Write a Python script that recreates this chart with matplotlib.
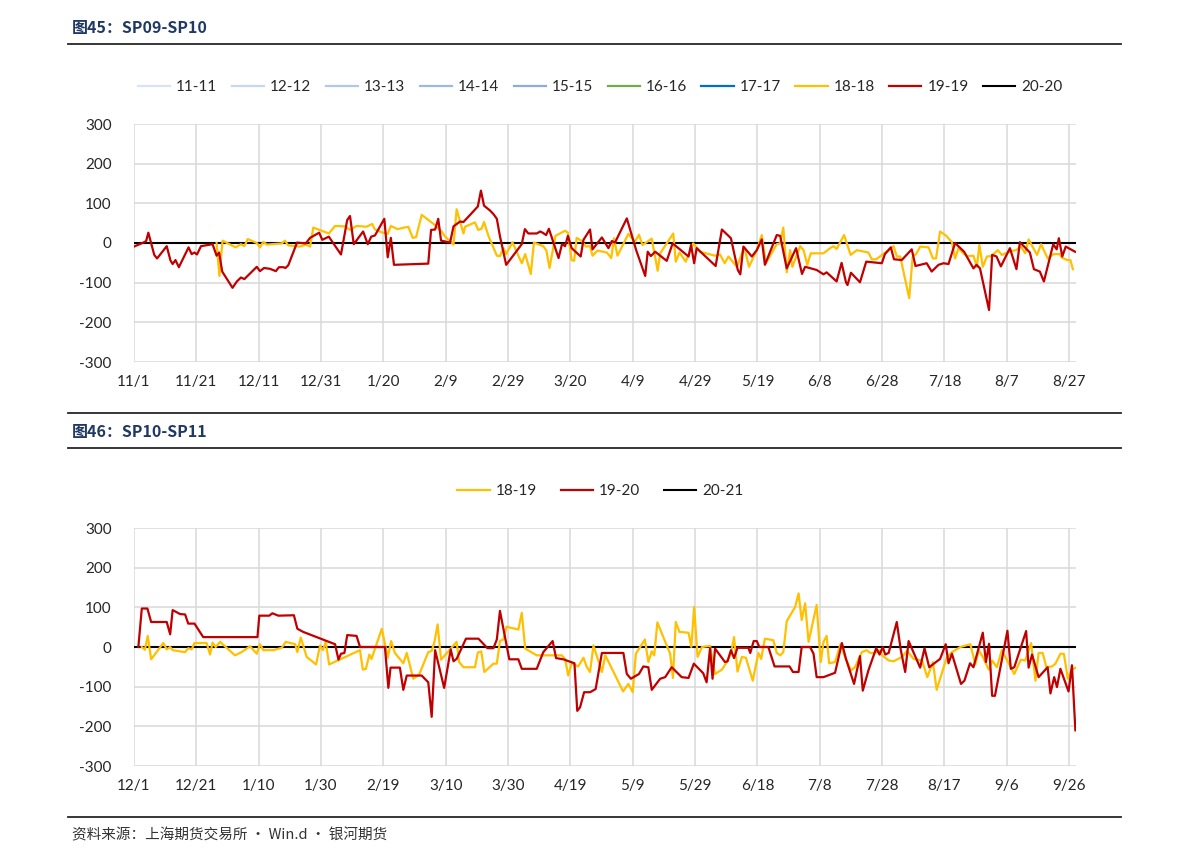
import numpy as np
import matplotlib
matplotlib.use("Agg")
import matplotlib.pyplot as plt
import matplotlib.dates as mdates
from matplotlib.lines import Line2D
from matplotlib.ticker import FixedLocator, FuncFormatter

# ---- 图45 SP09-SP10 (days counted from 2019-11-01) ----
top_start = "2019-11-01"
top_labels = ["11-11", "12-12", "13-13", "14-14", "15-15", "16-16", "17-17", "18-18", "19-19", "20-20"]
top_colors = ["#DAE3F3", "#C9D7EE", "#B4C7E7", "#9DB8E2", "#8FAADC", "#70AD47", "#0070C0", "#FFC000", "#C00000", "#000000"]

top_red_days = [0, 3, 3.9, 4.6, 6.5, 7.4, 10.5, 11.7, 12.4, 13.3,
                14.4, 17.5, 18.5, 19.4, 20.2, 21.5, 25.2, 26.5, 27.3, 28.3,
                31.6, 33, 34.3, 35.4, 39.4, 40.4, 41.7, 43.6, 45.5, 46.5,
                47.9, 48.6, 49.5, 52.3, 55.1, 56.5, 59.4, 60.4, 62.5, 66.4,
                68.4, 69.3, 70.5, 73.5, 75, 76.1, 77.3, 80.3, 81.4, 82.4,
                83.4, 94.4, 95.3, 96.6, 97.6, 98.5, 101.4, 102.5, 104.6, 105.7,
                110.3, 111.3, 112.3, 114.2, 115.3, 116.4, 117.4, 119.4, 124.4, 125.4,
                126.5, 129.2, 130.3, 131.1, 132.2, 133.1, 136.2, 137.3, 138.3, 139.2,
                140.4, 143.3, 144.2, 146.3, 147.1, 150.1, 152.2, 153.3, 154.3, 158.1,
                161.1, 164, 164.8, 165.8, 167.2, 170.9, 172.8, 177.9, 178.7, 179.7,
                180.5, 186.6, 188.6, 191.5, 193.7, 194.5, 195.5, 198.2, 199.8, 201.4,
                202.4, 206.2, 207.3, 209.4, 212.4, 214.3, 215.3, 219, 221.2, 222.2,
                225.4, 227, 228.4, 228.9, 230, 232.9, 234.9, 239.9, 240.9, 242.8,
                243.8, 246.3, 249.5, 250.7, 254.3, 255.9, 258.1, 259.7, 261.3, 263.4,
                266.3, 269.3, 270.3, 271.4, 274.3, 275.3, 276.7, 278.1, 281, 283.1,
                284.2, 287.4, 288.7, 290.6, 291.9, 294.9, 296, 296.7, 297.8, 298.9,
                301.9]
top_red_vals = [-9, 1, 5, 26, -30, -39, -8, -44, -53, -43,
                -61, -11, -28, -24, -29, -8, -3, -32, -24, -72,
                -113, -97, -87, -91, -60, -71, -63, -65, -71, -61,
                -61, -63, -56, 1, -1, 13, 26, 8, 16, -29,
                58, 68, -3, 29, -3, 16, 19, 61, -36, 13,
                -55, -52, 33, 34, 61, 6, 1, 42, 54, 53,
                92, 132, 94, 82, 73, 61, 17, -55, -3, 35,
                24, 24, 29, 26, 20, 36, -38, -3, -8, 18,
                -13, -34, 8, 34, -16, 14, -13, 5, 1, 62,
                -18, -83, -22, -33, -22, -45, -1, -34, -5, -51,
                -13, -58, 34, 12, -68, -79, -9, -34, -18, 9,
                -55, 20, 18, -64, -13, -78, -60, -68, -79, -74,
                -97, -50, -99, -106, -75, -99, -47, -51, -28, -11,
                -41, -43, -16, -58, -51, -72, -55, -51, -53, 0,
                -22, -64, -55, -64, -169, -30, -34, -59, -13, -66,
                2, -24, -66, -72, -97, -3, -16, 12, -34, -9,
                -22]

top_yel_days = [26.5, 27.4, 28.4, 32.6, 34.3, 35.4, 36.5, 39.4, 40.4, 41.5,
                42.6, 47.4, 48.4, 49.5, 53.3, 55.1, 56.5, 57.5, 62.5, 64.5,
                67.7, 69.3, 71.4, 74.6, 76.4, 77.3, 79.8, 81.4, 82.4, 84.5,
                88, 89.4, 90.5, 92.3, 96.6, 98.7, 99.8, 101.4, 102.5, 103.5,
                105.7, 106.2, 109.4, 110.4, 111.5, 112.3, 113.7, 116.4, 117.4, 118.5,
                119.4, 121.4, 124.4, 125.5, 127.3, 128.3, 131.3, 132.3, 133.3, 135.2,
                138.3, 139.2, 140.4, 141.2, 142, 143.6, 145, 146.3, 147.1, 148.7,
                151.7, 153.1, 154, 155.1, 158.6, 160.7, 162, 163.1, 166.1, 168,
                168.8, 173, 173.8, 175, 177, 179.4, 181.6, 186.4, 188, 189.5,
                190.7, 193.4, 195.8, 197.3, 199.8, 201.4, 202.7, 206.2, 207.3, 208.3,
                209.4, 210.5, 211.2, 213.7, 214.8, 216, 217.1, 221.2, 223.3, 224.4,
                225.4, 227.8, 229.9, 231.9, 235.6, 236.7, 238.1, 241, 243.7, 244.7,
                245.8, 248.7, 249.8, 250.9, 252.2, 254.9, 256.3, 257.3, 258.6, 260.6,
                262.4, 263.4, 264.5, 266.3, 267.4, 269.3, 270.4, 271.2, 272.3, 273.6,
                275, 277.1, 278.4, 281.6, 283, 284.5, 285.9, 287, 289.7, 291,
                293.1, 295, 297, 297.7, 299.4, 300.4, 301.2]
top_yel_vals = [0, -83, 6, -11, -3, -8, 10, 0, -11, 3,
                -4, -1, 6, -6, -9, -4, -9, 39, 24, 43,
                42, 33, 43, 41, 48, 34, 26, 23, 43, 35,
                41, 13, 15, 71, 45, 29, 16, 5, -4, 85,
                24, 41, 52, 33, 36, 53, 18, -32, -33, -13,
                -28, 2, -51, -28, -78, 1, -8, -19, -63, 18,
                31, 26, -43, -45, 13, 5, -9, -8, -32, -19,
                -24, -38, 12, -32, 23, 3, 21, -5, 11, -70,
                -26, 24, -47, -24, -47, -1, -22, -32, -29, -51,
                -34, -60, -11, -60, -18, 20, -51, -3, -1, 39,
                -74, -18, -60, -8, -18, -55, -26, -26, -13, -8,
                -15, 20, -30, -18, -24, -41, -41, -24, -8, -34,
                -34, -139, -34, -28, -9, -11, -39, -39, 29, 18,
                2, -39, -13, -28, -33, -32, -60, -5, -60, -34,
                -33, -18, -30, -20, -18, -9, -26, 9, -30, -3,
                -39, -28, -28, -37, -43, -43, -66]

# ---- 图46 SP10-SP11 (days counted from 2019-12-01) ----
bot_start = "2019-12-01"
bot_labels = ["18-19", "19-20", "20-21"]
bot_colors = ["#FFC000", "#C00000", "#000000"]

bot_red_days = [1.4, 2.5, 4.3, 5.5, 10.5, 11.6, 12.4, 14.8, 16.4, 17.4,
                19.4, 22.2, 39.6, 40.2, 43.4, 44.4, 46.3, 51.3, 52.4, 54.3,
                64.5, 65.6, 66.4, 67.5, 68.4, 71.4, 72.5, 80.5, 81.6, 82.3,
                85.3, 86.4, 87.5, 92.3, 94.4, 95.5, 96.6, 99.5, 101.6, 102.5,
                103.5, 106.5, 110.5, 113.4, 115.3, 116.4, 117.4, 120.4, 123.3, 124.4,
                129.2, 131.3, 134.3, 135.4, 137.7, 141.3, 142.2, 143.1, 144.4, 146.3,
                148.1, 150.1, 157, 158.1, 159.4, 162, 163.4, 165, 166.1, 168.8,
                170.4, 172.5, 175.7, 177.9, 179.6, 182.6, 183.7, 184.8, 185.6, 186.4,
                189.6, 190.4, 191.5, 192.5, 193.6, 197.1, 197.7, 198.8, 199.8, 200.6,
                203.5, 205.5, 210.3, 211.4, 213.2, 214.2, 216.9, 218, 219, 221.2,
                224.9, 227.1, 228.4, 231, 232.9, 233.8, 235.6, 238.1, 239.2, 240.2,
                241, 242.1, 244.7, 246, 247.4, 248.5, 252.2, 253.6, 255.1, 258.6,
                260.4, 261.3, 262.4, 265.3, 266.4, 268.2, 269.3, 272.3, 273.3, 274.3,
                275.3, 276.2, 280.2, 281.3, 282.4, 286.2, 287, 288.1, 290.2, 293.1,
                294, 295.2, 296.1, 297.2, 299.8, 300.9, 302]
bot_red_vals = [0, 97, 97, 63, 63, 32, 93, 83, 82, 59,
                59, 25, 25, 79, 79, 85, 79, 80, 46, 38,
                7, -32, -17, -15, 30, 28, 0, 0, -103, -52,
                -52, -108, -72, -72, -89, -176, -8, -103, -6, -36,
                -30, 21, 21, -3, -3, 19, 91, -31, -31, -55,
                -55, -13, 15, -28, -31, -41, -161, -152, -114, -114,
                -106, -15, -15, -68, -80, -68, -49, -51, -108, -80,
                -76, -51, -76, -78, -42, -66, -89, -3, -80, -4,
                -38, -36, -8, -28, -2, -2, -15, 15, 15, 0,
                0, -49, -49, -63, -63, 0, 0, -17, -76, -76,
                -65, 10, -30, -93, -23, -110, -59, -3, -19, 0,
                -19, -15, 63, -8, -63, 15, -52, -3, -51, -30,
                7, -41, -17, -93, -85, -41, -51, 36, -38, 8,
                -123, -123, 41, -55, -51, 40, -52, -19, -76, -51,
                -117, -76, -101, -55, -112, -46, -210]

bot_yel_days = [2.5, 3.5, 4.4, 5.5, 9.4, 10.5, 11.6, 12.4, 16.4, 17.4,
                18.5, 19.4, 23.3, 24.4, 25.2, 26.2, 27.6, 32.4, 34.5, 37.2,
                39.4, 40.4, 41.5, 44.7, 47.4, 48.7, 51.7, 52.4, 53.5, 55.4,
                58.4, 59.7, 60.6, 61.5, 62.6, 72.5, 73.4, 74.4, 75.5, 76.2,
                79.5, 81.4, 82.5, 83.7, 86.4, 87.5, 89.6, 91.5, 94.4, 95.5,
                96.4, 97.4, 98.5, 102.5, 103.5, 104.3, 105.7, 109.4, 110.3, 111.4,
                112.4, 115.3, 116.4, 117.4, 118.5, 119.5, 123.3, 124.4, 125.5, 129.2,
                131.3, 137.2, 138.3, 139.3, 140.4, 142.5, 144.2, 145.2, 146.3, 147.4,
                150.1, 151.2, 156.9, 158.6, 160, 161, 163.9, 165, 166.1, 166.9,
                167.9, 169.8, 172, 172.9, 173.8, 175, 177.9, 178.8, 179.7, 180.8,
                182.2, 184.8, 186.4, 188.6, 190.2, 191.5, 192.5, 193.6, 195, 196.3,
                198.5, 200.3, 201.2, 202.4, 205.1, 206.2, 207.3, 208.3, 209.4, 212.1,
                213.2, 214.2, 215.3, 216.4, 219, 220.3, 221.2, 222.2, 223, 224.9,
                226.7, 228.1, 230, 231.3, 233.5, 235, 236.2, 237.8, 239.2, 240,
                242.1, 243.7, 246.4, 248, 250.1, 252.8, 254.5, 256.3, 257.5, 260.7,
                262.4, 265.1, 268.3, 269.9, 271, 272.3, 274.2, 275.3, 276.8, 278.4,
                280.6, 282.4, 284.5, 285.9, 287.8, 289.2, 290.2, 291.5, 292.7, 294.5,
                295.6, 297.2, 298.3, 299.6, 300.8, 302.4]
bot_yel_vals = [0, -7, 28, -31, 10, -6, 0, -8, -13, -3,
                -6, 10, 10, -19, 11, 0, 13, -21, -13, 2,
                -17, 7, -8, -8, -2, 13, 7, -13, 24, -25,
                -44, 4, -8, 13, -44, -8, -57, -55, -19, -30,
                46, -27, 15, -15, -41, -15, -80, -69, -13, -10,
                13, 57, -32, 4, 13, -38, -51, -51, -14, -11,
                -63, -42, -42, 15, 19, 51, 44, 86, -4, -21,
                -21, -21, -30, -72, -41, -49, -27, -49, -63, 4,
                -63, -21, -112, -93, -114, -17, 19, -38, -11, -21,
                62, 25, -17, -78, 63, 38, 36, 0, 101, -25,
                0, 3, -68, -57, -38, -17, 25, -62, -25, -27,
                -85, -15, -30, 21, 17, -15, -21, -13, 65, 101,
                135, 68, 110, 13, 106, -38, 13, 28, -41, -38,
                8, -25, -59, -51, -13, -8, -15, -15, -8, -21,
                -34, -36, -25, -10, -30, -34, -76, -38, -108, -27,
                -13, 0, 7, -44, -8, -25, -57, -34, -51, -8,
                -41, -68, -32, -34, 10, -85, -15, -15, -51, -49,
                -42, -17, -17, -80, -57, -51]

y_ticks = [-300, -200, -100, 0, 100, 200, 300]

plt.rcParams['font.family'] = ['Lato', 'Noto Sans CJK SC', 'DejaVu Sans']
plt.rcParams['axes.unicode_minus'] = False
W, H = 1191, 863
fig = plt.figure(figsize=(W / 100, H / 100), dpi=100)


def fy(py):
    return 1 - py / H


def date_label(x, pos):
    d = mdates.num2date(x)
    return "%d/%d" % (d.month, d.day)


def panel(top_px, start, labels, colors, series, legend_px, colspace):
    ax = fig.add_axes([134 / W, fy(top_px + 238), (1076 - 134) / W, 238 / H])
    t0 = mdates.date2num(np.datetime64(start))
    by_label = dict(series)
    for lab, col in zip(labels, colors):
        if lab in by_label:
            d, v = by_label[lab]
            ax.plot(t0 + np.array(d), v, color=col, lw=1.6, label=lab, zorder=3)
        elif col == "#000000":
            ax.axhline(0, color=col, lw=1.5, label=lab, zorder=2.5)
        else:
            ax.plot([], [], color=col, lw=1.6, label=lab)
    ax.set_xlim(t0, t0 + 302.2)
    ax.set_ylim(-300, 300)
    ax.xaxis.set_major_locator(FixedLocator([t0 + 20 * k for k in range(16)]))
    ax.xaxis.set_major_formatter(FuncFormatter(date_label))
    ax.set_yticks(y_ticks)
    ax.grid(True, color="#D9D9D9", lw=1.1, zorder=0)
    ax.set_axisbelow(True)
    for s in ax.spines.values():
        s.set_visible(False)
    ax.tick_params(length=0, labelsize=11, colors="#262626", pad=9)
    ax.tick_params(axis='y', pad=16)
    ax.legend(loc="center", bbox_to_anchor=(0.504, fy(legend_px)), bbox_transform=fig.transFigure,
              ncol=len(labels), frameon=False, fontsize=11, handlelength=2.1,
              handletextpad=0.4, columnspacing=colspace, labelcolor="#262626")
    return ax


panel(124, top_start, top_labels, top_colors,
      [("18-18", (top_yel_days, top_yel_vals)), ("19-19", (top_red_days, top_red_vals))], 87, 0.95)
panel(528, bot_start, bot_labels, bot_colors,
      [("18-19", (bot_yel_days, bot_yel_vals)), ("19-20", (bot_red_days, bot_red_vals))], 491, 1.55)

# headings and rules
title_font = dict(family=['Noto Sans CJK SC', 'DejaVu Sans'], fontsize=11.5, fontweight='bold', color="#1F3864", va='center')
fig.text(72 / W, fy(28), "图45：SP09-SP10", **title_font)
fig.text(72 / W, fy(432), "图46：SP10-SP11", **title_font)
for py in [44, 413, 448, 817]:
    fig.add_artist(Line2D([68 / W, 1121 / W], [fy(py), fy(py)], color="#262626", lw=1.3))
fig.text(72 / W, fy(835), "资料来源：上海期货交易所 · Win.d · 银河期货",
         family=['Noto Sans CJK SC', 'DejaVu Sans'], fontsize=10.5, color="#333333", va='center')

fig.savefig("out.png", dpi=100)
